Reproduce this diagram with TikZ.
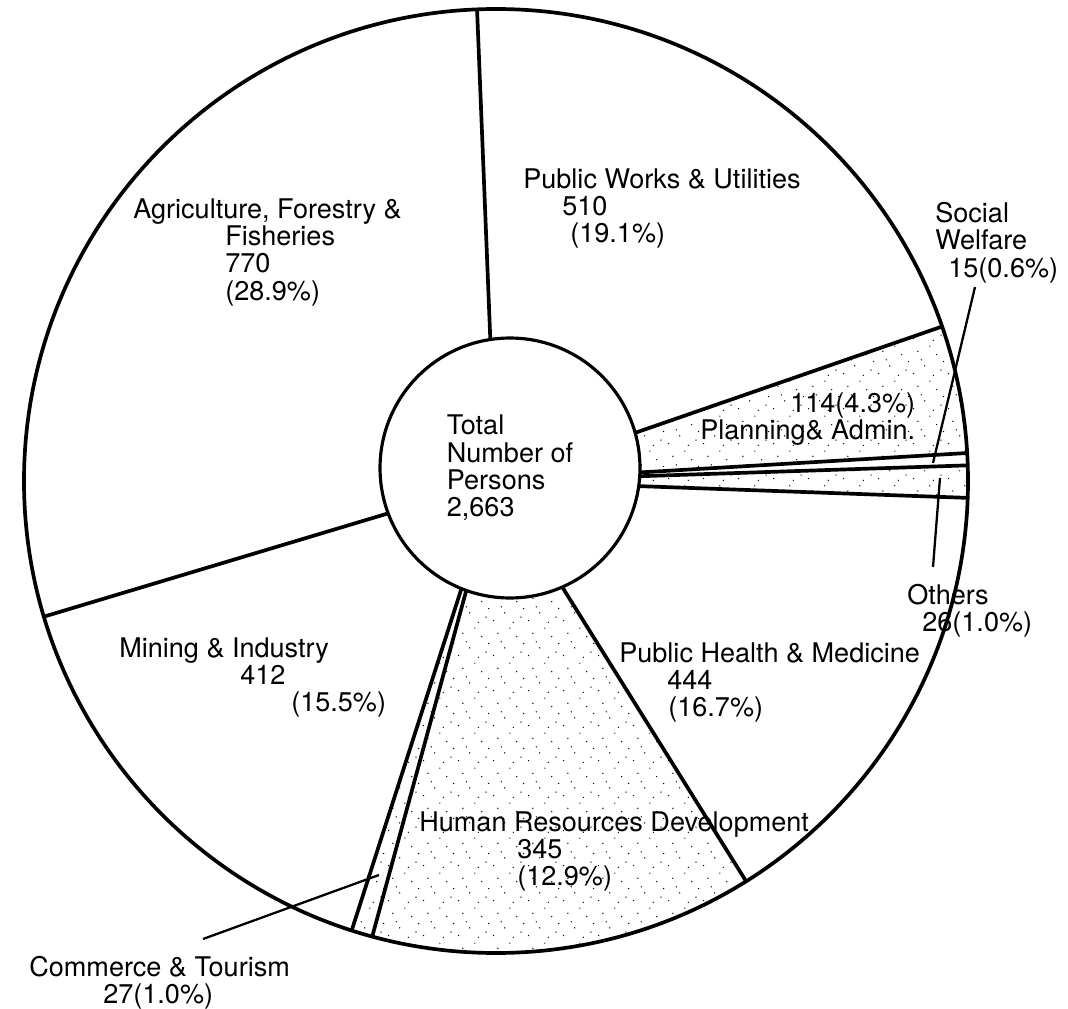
\documentclass[tikz,border=0pt]{standalone}
\usepackage{fontspec}
\setmainfont{TeX Gyre Heros}
\definecolor{InkColor}{RGB}{0,0,0}
\usetikzlibrary{patterns}
\pgfdeclarepatternformonly{stipple}{\pgfqpoint{0pt}{0pt}}{\pgfqpoint{20pt}{20pt}}{\pgfqpoint{20pt}{20pt}}{%
  \pgfpathcircle{\pgfqpoint{1.5pt}{2pt}}{0.4pt}
  \pgfpathcircle{\pgfqpoint{8pt}{6.5pt}}{0.4pt}
  \pgfpathcircle{\pgfqpoint{15pt}{13pt}}{0.4pt}
  \pgfpathcircle{\pgfqpoint{4pt}{15pt}}{0.4pt}
  \pgfpathcircle{\pgfqpoint{17.5pt}{4pt}}{0.4pt}
  \pgfpathcircle{\pgfqpoint{11pt}{18pt}}{0.4pt}
  \pgfpathcircle{\pgfqpoint{13pt}{1pt}}{0.4pt}
  \pgfpathcircle{\pgfqpoint{6pt}{10pt}}{0.4pt}
  \pgfpathcircle{\pgfqpoint{19pt}{9pt}}{0.4pt}
  \pgfusepath{fill}}
\tikzstyle{spoke} = [line width=2.1pt, InkColor]
\tikzstyle{rim} = [line width=2.1pt, InkColor]
\tikzstyle{leader} = [line width=1.3pt, InkColor]
\tikzstyle{shaded} = [pattern=stipple, pattern color=InkColor]
\tikzstyle{hub} = [circle, minimum size=5.2cm, draw=InkColor, line width=1.8pt, fill=white, align=left, inner sep=0pt]
\tikzstyle{slicetext} = [anchor=north west, align=left, inner sep=0pt]

\begin{document}
\begin{tikzpicture}[x=0.02cm, y=0.02cm, font=\fontsize{15.4}{15.6}\selectfont]
            \useasboundingbox (-496,-527) rectangle (572,481);
            % Shaded slices
            \fill[shaded] (0,0) -- (19.1:472) arc[start angle=19.1, end angle=3.4, radius=472] -- cycle;
            \fill[shaded] (0,0) -- (1.9:472) arc[start angle=1.9, end angle=-2.05, radius=472] -- cycle;
            \fill[shaded] (0,0) -- (-58:472) arc[start angle=-58, end angle=-107.8, radius=472] -- cycle;

            % Spokes and rim
            \foreach \a in {92.3, 19.1, 3.4, 1.9, -2.05, -58, -105.2, -107.8, 196.7}
                \draw[spoke] (0,0) -- (\a:472);
            \draw[rim] (0,0) circle[radius=472];

            % Centre
            \node[hub] (hub) at (14,13) {Total\\Number of\\Persons\\2,663};

            % Slice labels
            \node[slicetext] (works) at (27,313) {Public Works \& Utilities\\\hspace*{0.78cm}510\\\hspace*{0.94cm}(19.1\%)};
            \node[slicetext] (agri) at (-363,283) {Agriculture, Forestry \&\\\hspace*{1.84cm}Fisheries\\\hspace*{1.84cm}770\\\hspace*{1.84cm}(28.9\%)};
            \node[slicetext] (welfare) at (439,279) {Social\\Welfare\\\hspace*{0.26cm}15(0.6\%)};
            \node[slicetext] (planning) at (204,89) {\hspace*{1.8cm}114(4.3\%)\\Planning\& Admin.};
            \node[slicetext] (others) at (411,-103) {Others\\\hspace*{0.3cm}26(1.0\%)};
            \node[slicetext] (health) at (123,-161) {Public Health \& Medicine\\\hspace*{0.96cm}444\\\hspace*{0.98cm}(16.7\%)};
            \node[slicetext] (mining) at (-377,-156) {Mining \& Industry\\\hspace*{2.42cm}412\\\hspace*{3.44cm}(15.5\%)};
            \node[slicetext] (human) at (-77,-330) {Human Resources Development\\\hspace*{1.96cm}345\\\hspace*{1.96cm}(12.9\%)};
            \node[slicetext] (commerce) at (-467,-475) {Commerce \& Tourism\\\hspace*{1.48cm}27(1.0\%)};

            % Leaders
            \coordinate (welfaretip) at (479,194);
            \coordinate (welfarefoot) at (437,18);
            \draw[leader] (welfaretip) -- (welfarefoot);
            \coordinate (otherstip) at (444,3);
            \coordinate (othersfoot) at (437,-86);
            \draw[leader] (otherstip) -- (othersfoot);
            \coordinate (commercetip) at (-117,-394);
            \coordinate (commercefoot) at (-293,-458);
            \draw[leader] (commercetip) -- (commercefoot);
        \end{tikzpicture}
\end{document}
